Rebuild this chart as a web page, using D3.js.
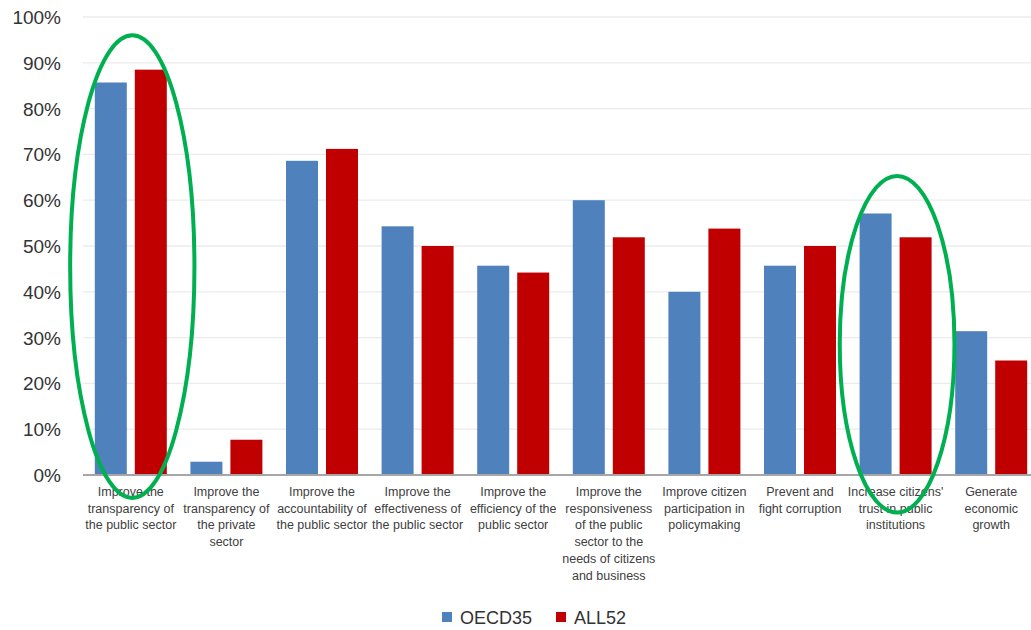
<!DOCTYPE html>
<html>
<head>
<meta charset="utf-8">
<script src="https://cdn.jsdelivr.net/npm/d3@7"></script>
<style>
  html, body { margin: 0; padding: 0; background: #fff; overflow: hidden; }
  svg { display: block; }
</style>
</head>
<body>
<svg id="chart" width="1031" height="630"></svg>
<script>
// Objectives of open government data strategies: share of countries
const categories = [
  "transparency-public", "transparency-private", "accountability", "effectiveness",
  "efficiency", "responsiveness", "participation", "corruption", "trust", "growth"
];
const categoryLabels = [
  ["Improve the", "transparency of", "the public sector"],
  ["Improve the", "transparency of", "the private", "sector"],
  ["Improve the", "accountability of", "the public sector"],
  ["Improve the", "effectiveness of", "the public sector"],
  ["Improve the", "efficiency of the", "public sector"],
  ["Improve the", "responsiveness", "of the public", "sector to the", "needs of citizens", "and business"],
  ["Improve citizen", "participation in", "policymaking"],
  ["Prevent and", "fight corruption"],
  ["Increase citizens'", "trust in public", "institutions"],
  ["Generate", "economic", "growth"]
];
const seriesNames = ["OECD35", "ALL52"];
const oecd35 = [85.7, 2.9, 68.6, 54.3, 45.7, 60.0, 40.0, 45.7, 57.1, 31.4];
const all52  = [88.5, 7.7, 71.2, 50.0, 44.2, 51.9, 53.8, 50.0, 51.9, 25.0];
const yTicks = [0, 10, 20, 30, 40, 50, 60, 70, 80, 90, 100];
// Highlighted groups: category, top and bottom of the outline in % units
const highlights = [
  { cat: "transparency-public", top: 96.0, bottom: -5.0, widthShare: 0.65 },
  { cat: "trust", top: 65.3, bottom: -8.2, widthShare: 0.60 }
];

const colors = { OECD35: "#4f81bd", ALL52: "#c00000" };

const svg = d3.select("#chart");
const plotLeft = 83, plotRight = 1039, plotTop = 17, plotBottom = 475;

const x0 = d3.scaleBand().domain(categories).range([plotLeft, plotRight]).padding(0);
const step = x0.bandwidth();
const x1 = d3.scaleBand().domain(seriesNames)
  .range([step * 0.1235, step * 0.8765]).paddingInner(0.2).paddingOuter(0);
const y = d3.scaleLinear().domain([0, 100]).range([plotBottom, plotTop]);

// gridlines
svg.append("g")
  .selectAll("line")
  .data(yTicks.filter(d => d > 0))
  .join("line")
  .attr("x1", plotLeft).attr("x2", plotRight)
  .attr("y1", d => y(d)).attr("y2", d => y(d))
  .attr("stroke", "#ebebeb").attr("stroke-width", 1.3);

// y axis labels
const yAxis = d3.axisLeft(y).tickValues(yTicks).tickFormat(d => d + "%").tickSize(0).tickPadding(0);
const yg = svg.append("g").attr("transform", `translate(61,0)`).call(yAxis);
yg.select(".domain").remove();
yg.selectAll("text")
  .attr("font-family", "Liberation Sans, Arial, sans-serif")
  .attr("font-size", 19).attr("fill", "#333").attr("dy", "0.34em");

// bars
const rows = categories.map((c, i) => ({ cat: c, values: [
  { key: "OECD35", v: oecd35[i] }, { key: "ALL52", v: all52[i] }
]}));
svg.append("g").selectAll("g")
  .data(rows)
  .join("g")
  .attr("transform", d => `translate(${x0(d.cat)},0)`)
  .selectAll("rect")
  .data(d => d.values)
  .join("rect")
  .attr("x", d => x1(d.key))
  .attr("width", x1.bandwidth())
  .attr("y", d => y(d.v))
  .attr("height", d => y(0) - y(d.v))
  .attr("fill", d => colors[d.key]);

// baseline axis
const xAxis = d3.axisBottom(x0).tickSize(0).tickFormat("");
const xg = svg.append("g").attr("transform", `translate(0,${y(0)})`).call(xAxis);
xg.select(".domain").attr("stroke", "#a6a6a6").attr("stroke-width", 2)
  .attr("d", `M${plotLeft},0H${plotRight}`);

// category labels
const lab = svg.append("g")
  .attr("font-family", "Liberation Sans, Arial, sans-serif")
  .attr("font-size", 12.5).attr("fill", "#404040").attr("text-anchor", "middle");
categories.forEach((c, i) => {
  const t = lab.append("text")
    .attr("x", x0(c) + step / 2)
    .attr("y", 496);
  categoryLabels[i].forEach((line, j) => {
    t.append("tspan").attr("x", x0(c) + step / 2).attr("dy", j === 0 ? 0 : 16.7).text(line);
  });
});

// highlight outlines
svg.append("g").selectAll("ellipse")
  .data(highlights)
  .join("ellipse")
  .attr("cx", d => x0(d.cat) + step / 2 + 1.5)
  .attr("cy", d => (y(d.top) + y(d.bottom)) / 2)
  .attr("rx", d => step * d.widthShare)
  .attr("ry", d => (y(d.bottom) - y(d.top)) / 2)
  .attr("fill", "none")
  .attr("stroke", "#00b050")
  .attr("stroke-width", 4);

// legend
const legend = svg.append("g").attr("font-family", "Liberation Sans, Arial, sans-serif")
  .attr("font-size", 18).attr("fill", "#333");
const legendX = [442, 556];
seriesNames.forEach((s, i) => {
  legend.append("rect").attr("x", legendX[i]).attr("y", 612).attr("width", 10).attr("height", 10)
    .attr("fill", colors[s]);
  legend.append("text").attr("x", legendX[i] + 18).attr("y", 624).text(s);
});
</script>
</body>
</html>
